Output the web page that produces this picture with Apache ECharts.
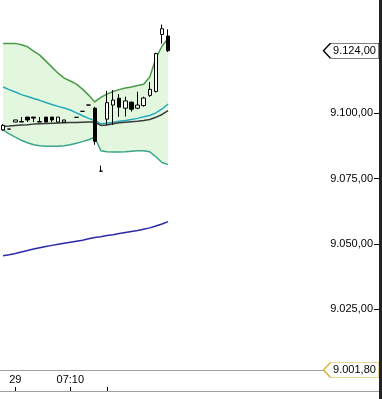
<!DOCTYPE html>
<html><head><meta charset="utf-8">
<script src="https://cdn.jsdelivr.net/npm/echarts@6/dist/echarts.min.js"></script>
<style>html,body{margin:0;padding:0;background:#fff}#c{width:382px;height:399px}</style>
</head><body><div id="c"></div>
<script>
// ---- data ----
const categories = ['', '', '29', '', '', '', '', '', '', '', '', '07:10'].concat(new Array(50).fill(''));
const tickIndices = [2, 11, 17];
// [open, close, low, high]
const candles = [
  [9093.7, 9095.4, 9093.3, 9096.0],
  [9094.0, 9094.0, 9094.0, 9094.0],
  [9096.7, 9097.5, 9096.7, 9097.5],
  [9096.9, 9096.7, 9096.7, 9098.6],
  [9098.6, 9097.5, 9096.7, 9098.6],
  [9098.6, 9098.2, 9096.7, 9098.6],
  [9096.7, 9096.9, 9096.7, 9098.6],
  [9098.6, 9096.7, 9096.7, 9098.6],
  [9098.6, 9097.5, 9096.7, 9098.6],
  [9096.7, 9098.6, 9096.7, 9098.6],
  [9096.7, 9097.5, 9096.7, 9097.5],
  '-',
  [9098.5, 9098.5, 9098.5, 9098.5],
  [9100.8, 9100.8, 9100.8, 9100.8],
  [9103.2, 9103.2, 9103.2, 9103.2],
  [9102.0, 9089.3, 9088.0, 9102.5],
  [9077.9, 9077.9, 9077.7, 9080.0],
  [9097.8, 9104.1, 9095.6, 9108.6],
  [9103.2, 9105.1, 9095.6, 9108.9],
  [9105.8, 9102.4, 9098.7, 9107.4],
  [9102.0, 9104.8, 9098.8, 9106.4],
  [9104.3, 9101.6, 9100.7, 9104.5],
  [9102.0, 9103.2, 9101.6, 9108.3],
  [9103.0, 9105.9, 9102.6, 9106.4],
  [9106.9, 9109.2, 9106.3, 9112.0],
  [9108.4, 9122.9, 9108.0, 9123.2],
  [9130.2, 9132.4, 9126.7, 9134.0],
  [9129.6, 9124.0, 9123.5, 9132.2]
];
const upperBand = [9126.8, 9126.8, 9126.8, 9126.3, 9125.5, 9123.8, 9122.3, 9120.0, 9117.7, 9115.4,
  9113.5, 9112.4, 9111.2, 9109.3, 9107.0, 9104.4, 9106.1, 9107.4, 9108.4, 9109.1,
  9109.7, 9110.1, 9110.7, 9111.2, 9113.9, 9121.1, 9125.7, 9128.7];
const lowerBand = [9093.7, 9092.2, 9090.9, 9089.7, 9088.8, 9088.0, 9087.6, 9087.4, 9087.4, 9087.4,
  9087.6, 9088.0, 9088.6, 9089.2, 9089.9, 9090.9, 9085.7, 9085.3, 9085.2, 9085.2,
  9085.3, 9085.5, 9085.7, 9085.7, 9085.3, 9083.4, 9081.2, 9080.4];
const maCyan = [9110.1, 9109.1, 9108.2, 9107.2, 9106.5, 9105.7, 9105.0, 9104.2, 9103.4, 9102.7,
  9102.1, 9101.3, 9100.2, 9099.1, 9098.1, 9097.3, 9096.0, 9096.2, 9096.6, 9097.0,
  9097.3, 9097.7, 9098.1, 9098.7, 9099.2, 9100.2, 9101.7, 9103.6];
const maDark = [9095.1, 9095.2, 9095.4, 9095.6, 9095.7, 9095.9, 9096.0, 9096.1, 9096.2, 9096.3,
  9096.4, 9096.5, 9096.5, 9096.6, 9096.7, 9096.7, 9095.4, 9095.6, 9096.0, 9096.4,
  9096.6, 9096.8, 9097.0, 9097.3, 9097.7, 9098.5, 9099.6, 9101.1];
const maBlue = [9045.5, 9045.9, 9046.4, 9047.0, 9047.5, 9048.1, 9048.6, 9049.1, 9049.5, 9049.9,
  9050.3, 9050.7, 9051.1, 9051.5, 9052.0, 9052.5, 9052.8, 9053.3, 9053.6, 9054.0,
  9054.4, 9054.8, 9055.2, 9055.7, 9056.2, 9056.9, 9057.7, 9058.6];
const yTicks = [9025, 9050, 9075, 9100];
const lastPrice = 9124.00;
const refPrice = 9001.80;

// ---- helpers ----
function de(v) {
  const s = Number(v).toFixed(2).split('.');
  return s[0].replace(/\B(?=(\d{3})+(?!\d))/g, '.') + ',' + s[1];
}
const FONT = '"Liberation Sans", Arial, sans-serif';
const bandWidth = upperBand.map((u, i) => +(u - lowerBand[i]).toFixed(2));
const tagPath = 'path://M0,7.5L7,0L56,0L56,15L7,15Z';

const chart = echarts.init(document.getElementById('c'), null, {renderer: 'canvas'});
chart.setOption({
  animation: false,
  backgroundColor: '#fff',
  grid: {left: -1, right: 3, top: 0, bottom: 8, containLabel: false},
  xAxis: {
    type: 'category', data: categories, boundaryGap: true,
    axisLine: {show: true, lineStyle: {color: '#a0a0a0', width: 1}},
    axisTick: {show: true, inside: true, length: 4, alignWithLabel: true,
      interval: (i) => tickIndices.includes(i), lineStyle: {color: '#000'}},
    axisLabel: {show: true, inside: true, margin: 6, interval: (i, v) => v !== '',
      color: '#000', fontSize: 11, fontFamily: FONT},
    splitLine: {show: false}
  },
  yAxis: {
    type: 'value', position: 'right', min: 8993.77, max: 9143.40,
    axisLine: {show: false},
    axisTick: {show: true, inside: true, length: 5, customValues: yTicks, lineStyle: {color: '#000'}},
    axisLabel: {show: true, inside: true, margin: 6, customValues: yTicks, formatter: de,
      color: '#000', fontSize: 11, fontFamily: FONT},
    splitLine: {show: false}
  },
  graphic: [{type: 'rect', shape: {x: 379, y: 0, width: 3, height: 399}, style: {fill: '#222'}, z: 100}],
  series: [
    {type: 'line', data: lowerBand, stack: 'bb', symbol: 'none', lineStyle: {opacity: 0}, silent: true, z: 1},
    {type: 'line', data: bandWidth, stack: 'bb', symbol: 'none', lineStyle: {opacity: 0},
      areaStyle: {color: '#e3f7df', opacity: 1}, silent: true, z: 1},
    {type: 'line', data: upperBand, symbol: 'none', lineStyle: {color: '#4a9a48', width: 1.5}, z: 2},
    {type: 'line', data: lowerBand, symbol: 'none', lineStyle: {color: '#3aa58a', width: 1.5}, z: 2},
    {type: 'line', data: maCyan, symbol: 'none', lineStyle: {color: '#22aab8', width: 1.5}, z: 2},
    {type: 'line', data: maDark, symbol: 'none', lineStyle: {color: '#3a3a3a', width: 1.5}, z: 2},
    {type: 'line', data: maBlue, symbol: 'none', lineStyle: {color: '#2a2aa8', width: 1.5}, z: 2},
    {
      type: 'candlestick', data: candles, barWidth: 4, z: 5,
      itemStyle: {color: '#fff', color0: '#000', borderColor: '#000', borderColor0: '#000',
        borderColorDoji: '#000', borderWidth: 1},
      markLine: {
        silent: true, symbol: ['none', 'none'], z: 3, animation: false,
        data: [{yAxis: refPrice}],
        lineStyle: {color: '#a0a0a0', type: 'solid', width: 1},
        label: {show: false}
      },
      markPoint: {
        silent: true, z: 10, animation: false,
        symbol: tagPath, symbolSize: [56, 15],
        label: {show: true, position: 'inside', offset: [3, 0], color: '#000',
          fontSize: 11, fontFamily: FONT, formatter: (p) => de(p.value)},
        data: [
          {coord: [57, lastPrice], value: lastPrice,
            itemStyle: {color: '#fff', borderColor: '#000', borderWidth: 1}},
          {coord: [57, refPrice], value: refPrice,
            itemStyle: {color: '#fff', borderColor: '#d8b030', borderWidth: 1}}
        ]
      }
    }
  ]
});
</script></body></html>
